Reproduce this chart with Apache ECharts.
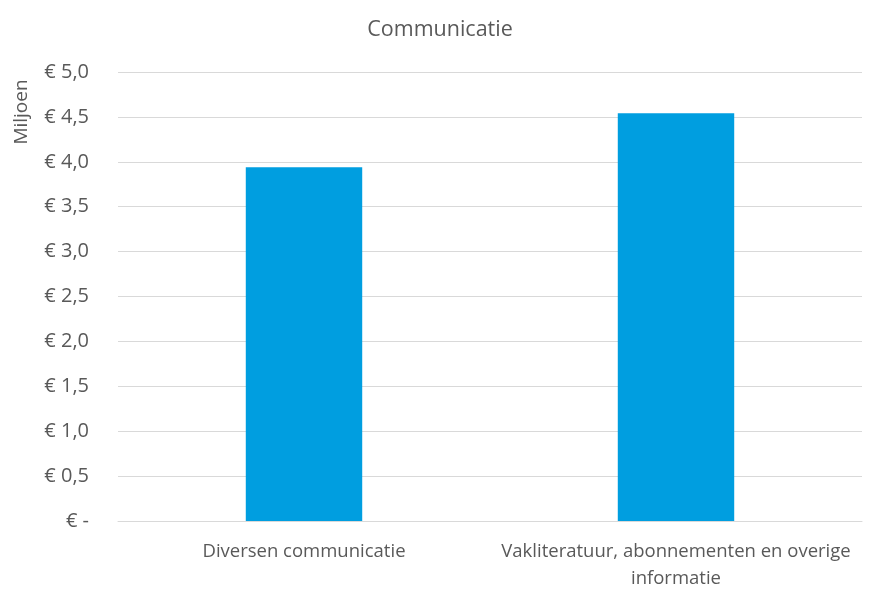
<!DOCTYPE html>
<html>
<head>
<meta charset="utf-8">
<script src="https://cdn.jsdelivr.net/npm/echarts@6/dist/echarts.min.js"></script>
<style>html,body{margin:0;padding:0;background:#fff;}#c{width:880px;height:597px;}</style>
</head>
<body>
<div id="c"></div>
<script>
const categories = ['Diversen communicatie', 'Vakliteratuur, abonnementen en overige\ninformatie'];
const values = [3.94, 4.54];
const titleText = 'Communicatie';
const axisTitle = 'Miljoen';

const FONT = 'Open Sans';
const chart = echarts.init(document.getElementById('c'));
chart.setOption({
  animation: false,
  backgroundColor: '#ffffff',
  title: {
    text: titleText, left: 'center', top: 14,
    textStyle: { fontFamily: FONT, fontSize: 21.5, fontWeight: 'normal', color: '#595959' }
  },
  grid: { left: 118, right: 18, top: 72, bottom: 76 },
  xAxis: {
    type: 'category', data: categories,
    axisLine: { lineStyle: { color: '#d9d9d9' } },
    axisTick: { show: false },
    axisLabel: { fontFamily: FONT, fontSize: 18.5, color: '#595959', margin: 17, lineHeight: 27, interval: 0 }
  },
  yAxis: {
    type: 'value', min: 0, max: 5, interval: 0.5,
    axisLine: { show: false }, axisTick: { show: false },
    splitLine: { lineStyle: { color: '#d9d9d9' } },
    axisLabel: {
      fontFamily: FONT, fontSize: 20, color: '#595959', margin: 29,
      formatter: v => v === 0 ? '€ -' : '€ ' + v.toFixed(1).replace('.', ',')
    }
  },
  graphic: [{
    type: 'text', x: 12, y: 112, rotation: Math.PI / 2,
    style: { text: axisTitle, fontFamily: FONT, fontSize: 19, fill: '#595959', align: 'center', verticalAlign: 'top' }
  }],
  series: [{
    type: 'bar', data: values, barWidth: '31.3%',
    itemStyle: { color: '#009ee0' }
  }]
});
</script>
</body>
</html>
